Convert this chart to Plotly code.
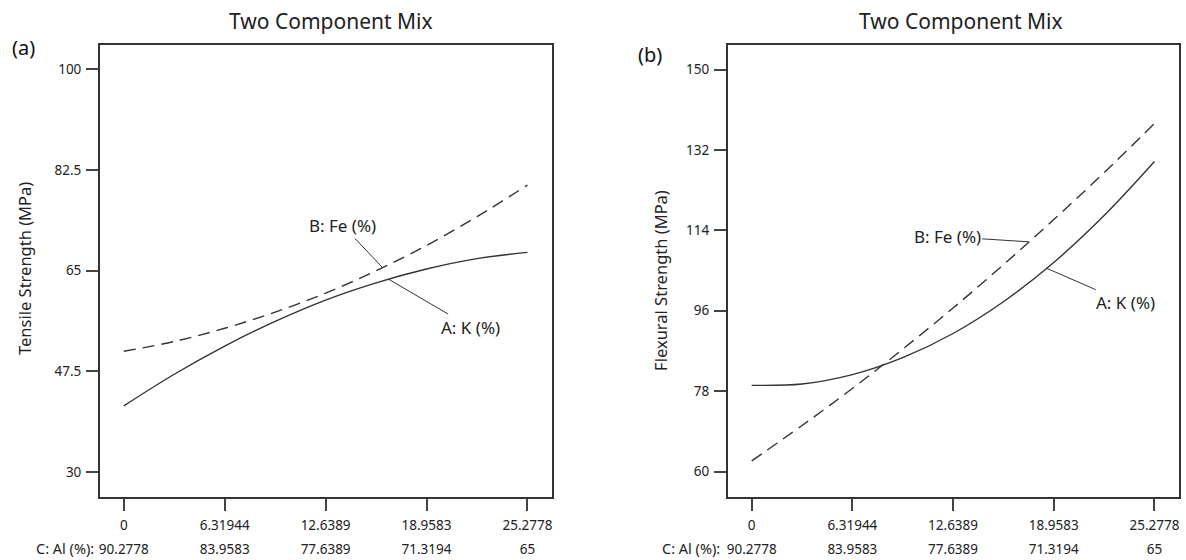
import numpy as np
import plotly.graph_objects as go

# Trace positions along component B (%), with the matching Al content row
x_pos = [0, 3.15972, 6.31944, 9.47917, 12.6389, 15.7986, 18.9583, 22.1181, 25.2778]
x_ticks = [0, 6.31944, 12.6389, 18.9583, 25.2778]
x_tick_text = ["0", "6.31944", "12.6389", "18.9583", "25.2778"]
al_tick_text = ["90.2778", "83.9583", "77.6389", "71.3194", "65"]

# Response traces (MPa)
tensile_k = [41.5, 47.0, 51.9, 56.2, 59.9, 62.9, 65.3, 67.1, 68.2]
tensile_fe = [51.0, 52.7, 55.0, 57.8, 61.1, 65.0, 69.4, 74.4, 79.9]
flexural_k = [79.3, 79.6, 81.7, 85.5, 90.9, 98.0, 106.8, 117.3, 129.4]
flexural_fe = [62.4, 70.3, 78.6, 87.4, 96.6, 106.3, 116.4, 126.9, 137.9]

tensile_ticks = [30, 47.5, 65, 82.5, 100]
flexural_ticks = [60, 78, 96, 114, 132, 150]

FONT = "Noto Sans"
INK = "#222222"
LINE = "#333333"
W, H = 1186, 560

fig = go.Figure()

solid = dict(color=LINE, width=1.4, shape="spline")
dashed = dict(color=LINE, width=1.4, shape="spline", dash="12px,7px")

fig.add_trace(go.Scatter(x=x_pos, y=tensile_k, mode="lines", line=solid, xaxis="x", yaxis="y", showlegend=False))
fig.add_trace(go.Scatter(x=x_pos, y=tensile_fe, mode="lines", line=dashed, xaxis="x", yaxis="y", showlegend=False))
fig.add_trace(go.Scatter(x=x_pos, y=flexural_k, mode="lines", line=solid, xaxis="x2", yaxis="y2", showlegend=False))
fig.add_trace(go.Scatter(x=x_pos, y=flexural_fe, mode="lines", line=dashed, xaxis="x2", yaxis="y2", showlegend=False))
# empty traces so the secondary (Al) tick rows are drawn
fig.add_trace(go.Scatter(x=[], y=[], xaxis="x3", yaxis="y", showlegend=False))
fig.add_trace(go.Scatter(x=[], y=[], xaxis="x4", yaxis="y2", showlegend=False))

y_dom = [63 / H, 1 - 44.5 / H]
x_range = [-1.5, 26.82]

x_common = dict(
    range=x_range, tickmode="array", tickvals=x_ticks, ticktext=x_tick_text,
    ticks="outside", ticklen=12, tickwidth=1.5, tickcolor="#444",
    showline=True, mirror=True, linecolor=LINE, linewidth=1.6,
    showgrid=False, zeroline=False, ticklabelstandoff=3,
    tickfont=dict(family=FONT, size=13.5, color=INK),
)
y_common = dict(
    tickmode="array", ticks="outside", ticklen=12, tickwidth=1.5, tickcolor="#444",
    showline=True, mirror=True, linecolor=LINE, linewidth=1.6,
    showgrid=False, zeroline=False, ticklabelstandoff=2,
    tickfont=dict(family=FONT, size=13.5, color=INK),
)
al_common = dict(
    range=x_range, tickmode="array", tickvals=x_ticks, ticktext=al_tick_text,
    ticks="", showline=False, showgrid=False, zeroline=False,
    anchor="free", position=0.037, side="bottom",
    tickfont=dict(family=FONT, size=13.5, color=INK),
)

fig.update_layout(
    width=W, height=H,
    margin=dict(l=0, r=0, t=0, b=0),
    paper_bgcolor="white", plot_bgcolor="white",
    font=dict(family=FONT, color=INK),
    xaxis=dict(domain=[99 / W, 552 / W], anchor="y", **x_common),
    yaxis=dict(domain=y_dom, anchor="x", range=[25.66, 104.34], tickvals=tensile_ticks, **y_common),
    xaxis2=dict(domain=[728 / W, 1180 / W], anchor="y2", **x_common),
    yaxis2=dict(domain=y_dom, anchor="x2", range=[54.3, 155.6], tickvals=flexural_ticks, **y_common),
    xaxis3=dict(overlaying="x", **al_common),
    xaxis4=dict(overlaying="x2", **al_common),
)

ann = []
# panel titles and letters
for cx, letter, lx, ly in [(331, "(a)", 9, 47), (962, "(b)", 636, 55)]:
    ann.append(dict(text="Two Component Mix", x=cx / W, y=1 - 21 / H, xref="paper", yref="paper",
                    xanchor="center", yanchor="middle", showarrow=False,
                    font=dict(family=FONT, size=21, color=INK)))
    ann.append(dict(text=letter, x=lx / W, y=1 - ly / H, xref="paper", yref="paper",
                    xanchor="left", yanchor="middle", showarrow=False,
                    font=dict(family=FONT, size=20, color="#111")))

# y-axis titles
ann.append(dict(text="Tensile Strength (MPa)", x=23 / W, y=1 - 268 / H, xref="paper", yref="paper",
                textangle=-90, xanchor="center", yanchor="middle", showarrow=False,
                font=dict(family=FONT, size=16.5, color=INK)))
ann.append(dict(text="Flexural Strength (MPa)", x=660 / W, y=1 - 280 / H, xref="paper", yref="paper",
                textangle=-90, xanchor="center", yanchor="middle", showarrow=False,
                font=dict(family=FONT, size=16.5, color=INK)))

# Al row captions
for rx in (95, 722):
    ann.append(dict(text="C: Al (%):", x=rx / W, y=1 - 548 / H, xref="paper", yref="paper",
                    xanchor="right", yanchor="middle", showarrow=False,
                    font=dict(family=FONT, size=14.5, color=INK)))

# curve labels with leader lines
def curve_label(text, xa, ya, px, series, tx, ty):
    py = float(np.interp(px, x_pos, series))
    return dict(text=text, x=px, y=py, xref=xa, yref=ya, ax=tx, ay=ty, axref=xa, ayref=ya,
                showarrow=True, arrowhead=0, arrowwidth=1, arrowcolor=LINE, standoff=0,
                font=dict(family=FONT, size=17, color=INK))

ann.append(curve_label("B: Fe (%)", "x", "y", 16.2, tensile_fe, 13.7, 72.9))
ann.append(curve_label("A: K (%)", "x", "y", 16.6, tensile_k, 21.7, 55.2))
ann.append(curve_label("B: Fe (%)", "x2", "y2", 17.4, flexural_fe, 12.27, 112.6))
ann.append(curve_label("A: K (%)", "x2", "y2", 18.5, flexural_k, 23.47, 97.8))

fig.update_layout(annotations=ann)
fig.write_html("out.html")
